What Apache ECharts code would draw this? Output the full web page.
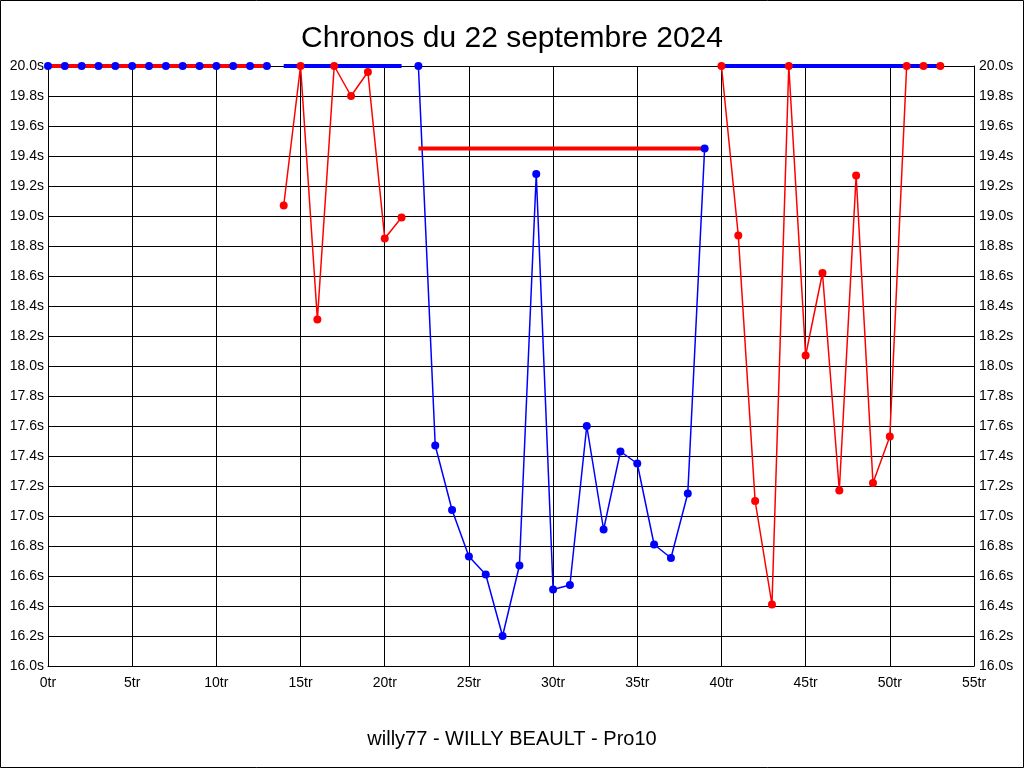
<!DOCTYPE html>
<html>
<head>
<meta charset="utf-8">
<script src="https://cdn.jsdelivr.net/npm/echarts@6/dist/echarts.min.js"></script>
<style>
html,body{margin:0;padding:0;background:#fff;}
#c{width:1024px;height:768px;}
</style>
</head>
<body>
<div id="c"></div>
<script>
// ---- data ----
const titleText = 'Chronos du 22 septembre 2024';
const footerText = 'willy77 - WILLY BEAULT - Pro10';
const xTicks = [0, 5, 10, 15, 20, 25, 30, 35, 40, 45, 50, 55];
const yMin = 16.0, yMax = 20.0, yStep = 0.2;

// bands of laps: start lap, end lap, level of the thick line
const bandStart = [0, 14, 22, 40];
const bandEnd = [13, 21, 39, 53];
const bandLevel = [20.0, 20.0, 19.45, 20.0];

// lap times in each band (first lap = bandStart)
const band0Times = [20.0, 20.0, 20.0, 20.0, 20.0, 20.0, 20.0, 20.0, 20.0, 20.0, 20.0, 20.0, 20.0, 20.0];
const band1Times = [19.07, 20.0, 18.31, 20.0, 19.80, 19.96, 18.85, 18.99];
const band2Times = [20.0, 17.47, 17.04, 16.73, 16.61, 16.20, 16.67, 19.28, 16.51, 16.54, 17.60, 16.91, 17.43, 17.35, 16.81, 16.72, 17.15, 19.45];
const band3Times = [20.0, 18.87, 17.10, 16.41, 20.0, 18.07, 18.62, 17.17, 19.27, 17.22, 17.53, 20.0, 20.0, 20.0];
const bandTimes = [band0Times, band1Times, band2Times, band3Times];

// ---- styles ----
const RED = '#ff0000', BLUE = '#0000ff';
const dotColor = [BLUE, RED, BLUE, RED];
const thickColor = [RED, BLUE, RED, BLUE];
const FONT = 'Liberation Sans, Arial, sans-serif';

const series = [];
bandTimes.forEach((times, b) => {
  const pts = times.map((v, i) => [bandStart[b] + i, v]);
  // thin line
  series.push({
    type: 'line', data: pts, showSymbol: false, z: 2,
    lineStyle: {color: dotColor[b], width: 1.5}, silent: true
  });
  // thick level line
  series.push({
    type: 'line', data: [[bandStart[b], bandLevel[b]], [bandEnd[b], bandLevel[b]]],
    showSymbol: false, z: 3, lineStyle: {color: thickColor[b], width: 4}, silent: true
  });
  // dots
  series.push({
    type: 'scatter', data: pts, symbol: 'circle', symbolSize: 8, z: 4,
    itemStyle: {color: dotColor[b], opacity: 1}, silent: true
  });
});

const yLabel = v => v.toFixed(1) + 's';
const chart = echarts.init(document.getElementById('c'), null, {renderer: 'canvas'});
chart.setOption({
  animation: false,
  backgroundColor: '#ffffff',
  title: [
    {text: titleText, left: 'center', top: 19,
     textStyle: {fontFamily: FONT, fontSize: 30, fontWeight: 'normal', color: '#000'}},
    {text: footerText, left: 'center', top: 724,
     textStyle: {fontFamily: FONT, fontSize: 20, fontWeight: 'normal', color: '#000'}}
  ],
  graphic: [{type: 'rect', shape: {x: 0.5, y: 0.5, width: 1023, height: 767},
    style: {fill: 'none', stroke: '#000', lineWidth: 1}, z: 100, silent: true}],
  grid: {left: 48, right: 50, top: 66, bottom: 102, containLabel: false},
  xAxis: {
    type: 'value', min: xTicks[0], max: xTicks[xTicks.length - 1], interval: 5,
    axisLine: {lineStyle: {color: '#000', width: 1}},
    axisTick: {show: false},
    splitLine: {show: true, lineStyle: {color: '#000', width: 1}},
    axisLabel: {formatter: v => v + 'tr', color: '#000', fontFamily: FONT, fontSize: 14, margin: 10}
  },
  yAxis: [
    {type: 'value', min: yMin, max: yMax, interval: yStep, position: 'left',
     axisLine: {show: true, lineStyle: {color: '#000', width: 1}},
     axisTick: {show: false},
     splitLine: {show: true, lineStyle: {color: '#000', width: 1}},
     axisLabel: {formatter: yLabel, color: '#000', fontFamily: FONT, fontSize: 14, margin: 4}},
    {type: 'value', min: yMin, max: yMax, interval: yStep, position: 'right',
     axisLine: {show: true, lineStyle: {color: '#000', width: 1}},
     axisTick: {show: false},
     splitLine: {show: false},
     axisLabel: {formatter: yLabel, color: '#000', fontFamily: FONT, fontSize: 14, margin: 5}}
  ],
  series: series
});
</script>
</body>
</html>
